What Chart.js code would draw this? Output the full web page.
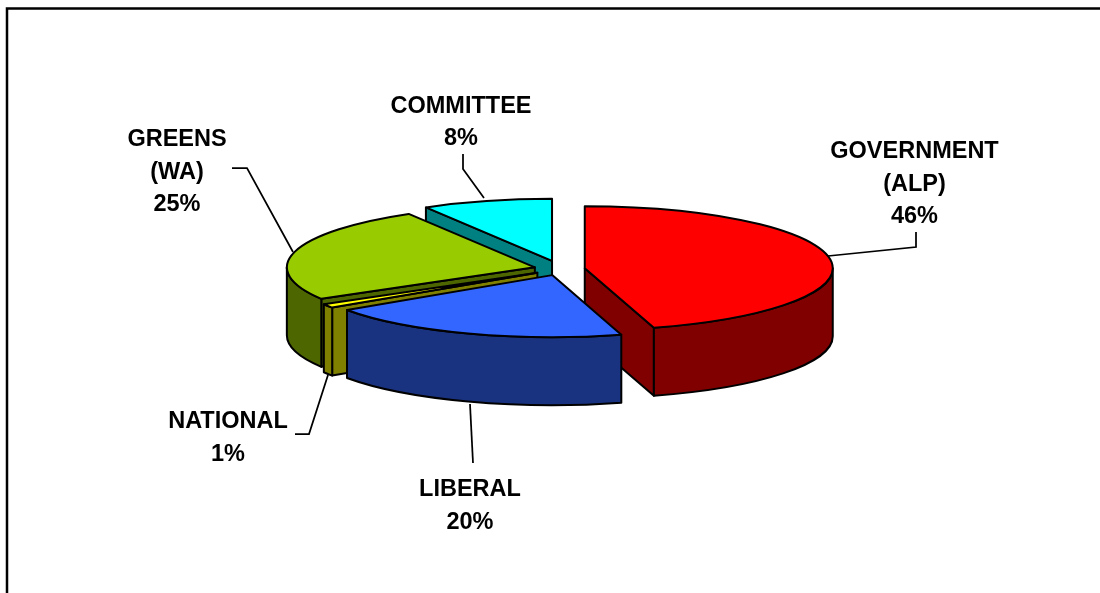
<!DOCTYPE html>
<html>
<head>
<meta charset="utf-8">
<script src="https://cdn.jsdelivr.net/npm/chart.js@4"></script>
<style>
  html, body { margin: 0; padding: 0; background: #fff; overflow: hidden; }
  canvas { display: block; }
</style>
</head>
<body>
<canvas id="pie" width="1100" height="593"></canvas>
<script>
const categories = ['GOVERNMENT\n(ALP)', 'LIBERAL', 'NATIONAL', 'GREENS\n(WA)', 'COMMITTEE'];
const shares = [45.5, 20, 1, 25, 8.49];
const topColors = ['#FF0000', '#3366FF', '#FFFF00', '#99CC00', '#00FFFF'];
const wallColors = ['#800000', '#1A3380', '#808000', '#4D6600', '#008080'];

// how far each slice is pulled out of the pie
const explode = [24, 26, 28, 27, 34];
const tilt = 0.25;
const depth = 68;
// back to front
const drawOrder = [4, 3, 2, 0, 1];

const labelSpots = [
    { x: 914.5, y: [152, 185, 217], leader: [[828, 256], [916, 247], [916, 232]] },
    { x: 470, y: [490, 523], leader: [[470, 404], [473, 463]] },
    { x: 228, y: [422, 455], leader: [[328, 375], [309, 434], [295, 434]] },
    { x: 177, y: [140, 173, 205], leader: [[293, 252], [247, 168], [232, 168]] },
    { x: 461, y: [107, 139], leader: [[484, 198], [463, 169], [463, 154]] }
];

function sliceGeometry(arc, offset, centerY) {
    const mid = (arc.startAngle + arc.endAngle) / 2;
    const r = arc.outerRadius;
    const cx = arc.x + Math.cos(mid) * offset;
    const cy = centerY + Math.sin(mid) * offset * tilt;
    const at = t => [cx + Math.cos(t) * r, cy + Math.sin(t) * r * tilt];
    return { cx, cy, rx: r, ry: r * tilt, at, start: arc.startAngle, end: arc.endAngle };
}

function paint(ctx, fill) {
    ctx.fillStyle = fill;
    ctx.fill();
    ctx.stroke();
}

function drawRadialWall(ctx, g, angle, fill) {
    const p = g.at(angle);
    ctx.beginPath();
    ctx.moveTo(g.cx, g.cy);
    ctx.lineTo(p[0], p[1]);
    ctx.lineTo(p[0], p[1] + depth);
    ctx.lineTo(g.cx, g.cy + depth);
    ctx.closePath();
    paint(ctx, fill);
}

function drawRim(ctx, g, fill) {
    const from = Math.max(g.start, 0);
    const to = Math.min(g.end, Math.PI);
    if (to <= from) return;
    ctx.beginPath();
    ctx.ellipse(g.cx, g.cy, g.rx, g.ry, 0, from, to);
    ctx.ellipse(g.cx, g.cy + depth, g.rx, g.ry, 0, to, from, true);
    ctx.closePath();
    paint(ctx, fill);
}

function drawTop(ctx, g, fill) {
    ctx.beginPath();
    ctx.moveTo(g.cx, g.cy);
    ctx.ellipse(g.cx, g.cy, g.rx, g.ry, 0, g.start, g.end);
    ctx.closePath();
    paint(ctx, fill);
}

const pie3d = {
    id: 'pie3d',
    beforeDraw(chart) {
        // the frame only shows along the top and left of the picture
        const ctx = chart.ctx;
        ctx.save();
        ctx.strokeStyle = '#000';
        ctx.lineWidth = 2.5;
        ctx.beginPath();
        ctx.moveTo(7, chart.height);
        ctx.lineTo(7, 8.5);
        ctx.lineTo(chart.width, 8.5);
        ctx.stroke();
        ctx.restore();
    },
    beforeDatasetsDraw(chart) {
        const ctx = chart.ctx;
        const arcs = chart.getDatasetMeta(0).data;
        const centerY = (chart.chartArea.top + chart.chartArea.bottom) / 2;
        ctx.save();
        ctx.strokeStyle = '#000';
        ctx.lineWidth = 2;
        ctx.lineJoin = 'round';
        drawOrder.forEach(i => {
            const g = sliceGeometry(arcs[i], arcs[i].options.offset, centerY);
            // only the faces turned towards the viewer
            if (-Math.cos(g.start) > 0.001) drawRadialWall(ctx, g, g.start, wallColors[i]);
            if (Math.cos(g.end) > 0.001) drawRadialWall(ctx, g, g.end, wallColors[i]);
            drawRim(ctx, g, wallColors[i]);
            drawTop(ctx, g, topColors[i]);
        });
        ctx.restore();
        return false;
    },
    afterDraw(chart) {
        const ctx = chart.ctx;
        ctx.save();
        ctx.fillStyle = '#000';
        ctx.strokeStyle = '#000';
        ctx.lineWidth = 1.75;
        ctx.font = 'bold 23.5px "Liberation Sans", Arial, sans-serif';
        ctx.textAlign = 'center';
        ctx.textBaseline = 'middle';
        categories.forEach((name, i) => {
            const spot = labelSpots[i];
            const lines = name.split('\n').concat(Math.round(shares[i]) + '%');
            lines.forEach((line, n) => ctx.fillText(line, spot.x, spot.y[n]));
            ctx.beginPath();
            spot.leader.forEach((p, n) => n ? ctx.lineTo(p[0], p[1]) : ctx.moveTo(p[0], p[1]));
            ctx.stroke();
        });
        ctx.restore();
    }
};

new Chart(document.getElementById('pie'), {
    type: 'pie',
    data: {
        labels: categories,
        datasets: [{
            data: shares,
            backgroundColor: topColors,
            borderColor: '#000',
            borderWidth: 2,
            offset: explode,
            hoverOffset: 0
        }]
    },
    options: {
        responsive: false,
        animation: false,
        events: [],
        radius: 248,
        layout: { padding: { left: 22, top: 0, right: 0, bottom: 55 } },
        plugins: {
            legend: { display: false },
            tooltip: { enabled: false }
        }
    },
    plugins: [pie3d]
});
</script>
</body>
</html>
